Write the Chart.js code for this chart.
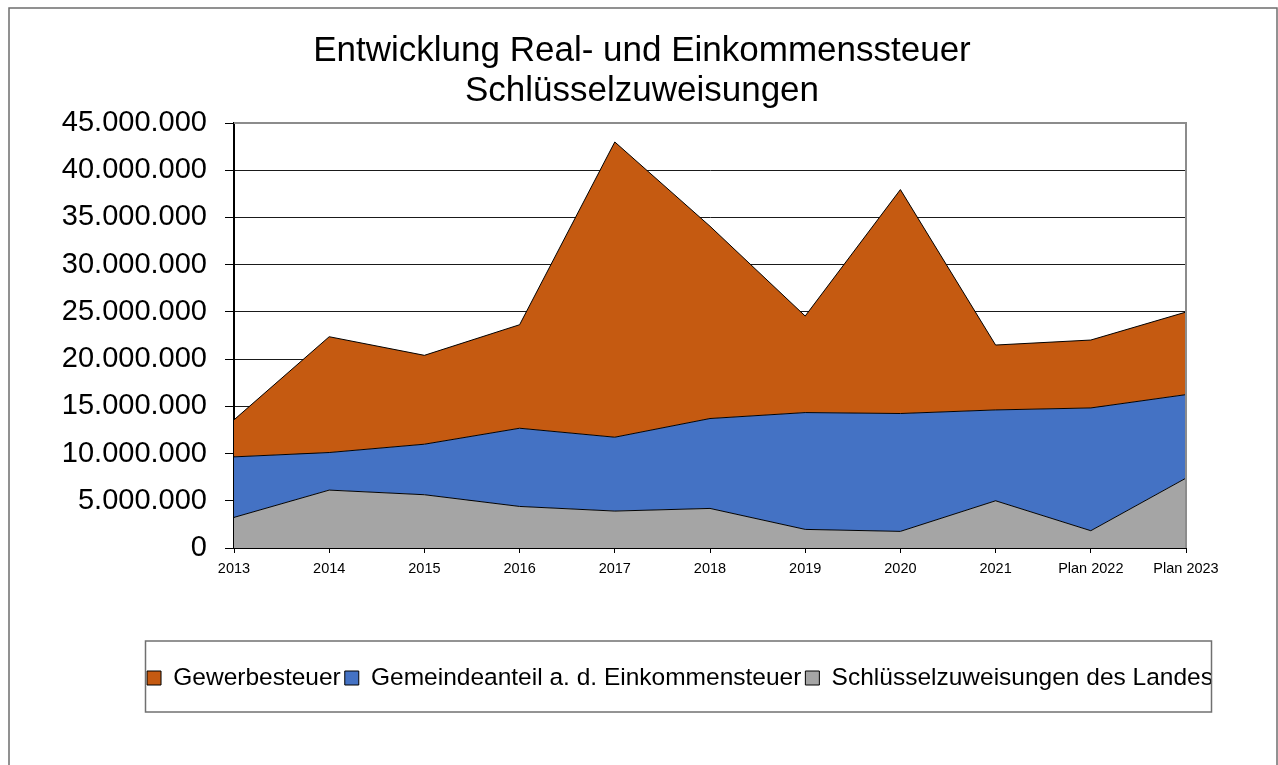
<!DOCTYPE html>
<html>
<head>
<meta charset="utf-8">
<script src="https://cdn.jsdelivr.net/npm/chart.js@4/dist/chart.umd.min.js"></script>
<style>
  html, body { margin: 0; padding: 0; background: #fff; }
  #wrap { width: 1278px; height: 765px; }
</style>
</head>
<body>
<div id="wrap"><canvas id="myChart" width="1278" height="765"></canvas></div>
<script>
  const years = ['2013', '2014', '2015', '2016', '2017', '2018', '2019', '2020', '2021', 'Plan 2022', 'Plan 2023'];

  // values in euro
  const schluesselzuweisungen = [3240000, 6130000, 5640000, 4400000, 3910000, 4190000, 1970000, 1760000, 5000000, 1830000, 7400000];
  const einkommensteuer = [6410000, 3980000, 5350000, 8280000, 7820000, 9520000, 12370000, 12480000, 9620000, 13000000, 8840000];
  const gewerbesteuer = [3920000, 12260000, 9410000, 10960000, 31260000, 20360000, 10220000, 23710000, 6870000, 7190000, 8740000];

  const titleLines = ['Entwicklung Real- und Einkommenssteuer', 'Schlüsselzuweisungen'];
  const yMax = 45000000;
  const yStep = 5000000;

  const fontFam = "'Liberation Sans', Arial, sans-serif";

  // 45000000 -> 45.000.000
  function formatDE(v) {
    return String(Math.round(v)).replace(/\B(?=(\d{3})+(?!\d))/g, '.');
  }

  // frames: page border, gray plot border, legend box
  const framePlugin = {
    id: 'frames',
    beforeDraw(chart) {
      const ctx = chart.ctx;
      ctx.save();
      ctx.fillStyle = '#fff';
      ctx.fillRect(0, 0, chart.width, chart.height);
      ctx.restore();
    },
    afterLayout(chart) {
      // legend sits a bit to the right, title almost centered
      chart.legend.left += 41;
      chart.legend.right += 41;
      chart.titleBlock.left += 3;
      chart.titleBlock.right += 3;
    },
    afterDatasetsDraw(chart) {
      const ctx = chart.ctx;
      const a = chart.chartArea;
      ctx.save();
      ctx.strokeStyle = '#8c8c8c';
      ctx.lineWidth = 2;
      ctx.beginPath();
      ctx.moveTo(a.left, a.top);
      ctx.lineTo(a.right, a.top);
      ctx.lineTo(a.right, a.bottom);
      ctx.stroke();
      ctx.restore();
    },
    afterDraw(chart) {
      const ctx = chart.ctx;
      ctx.save();
      ctx.strokeStyle = '#6e6e6e';
      ctx.lineWidth = 1.5;
      ctx.strokeRect(9, 8, 1268, 780);
      ctx.strokeStyle = '#707070';
      ctx.lineWidth = 1.5;
      ctx.strokeRect(145.5, 641, 1066, 71);
      ctx.restore();
    }
  };

  const data = {
    labels: years,
    datasets: [{
      label: 'Schlüsselzuweisungen des Landes',
      data: schluesselzuweisungen,
      backgroundColor: '#A5A5A5',
      borderColor: '#000',
      borderWidth: 1,
      fill: 'origin'
    }, {
      label: 'Gemeindeanteil a. d. Einkommensteuer',
      data: einkommensteuer,
      backgroundColor: '#4472C4',
      borderColor: '#000',
      borderWidth: 1,
      fill: '-1'
    }, {
      label: 'Gewerbesteuer',
      data: gewerbesteuer,
      backgroundColor: '#C55A11',
      borderColor: '#000',
      borderWidth: 1,
      fill: '-1'
    }]
  };

  const config = {
    type: 'line',
    data: data,
    options: {
      responsive: false,
      animation: false,
      devicePixelRatio: 1,
      layout: { padding: { top: 0, left: 0, right: 0, bottom: 64.75 } },
      elements: {
        line: { tension: 0 },
        point: { radius: 0, hoverRadius: 0 }
      },
      plugins: {
        tooltip: { enabled: false },
        title: {
          display: true,
          text: titleLines,
          color: '#000',
          font: { family: fontFam, size: 35, weight: 'normal', lineHeight: '40px' },
          padding: { top: 31, bottom: 12 }
        },
        legend: {
          display: true,
          position: 'bottom',
          reverse: true,
          labels: {
            color: '#000',
            font: { family: fontFam, size: 24.5 },
            boxWidth: 14,
            boxHeight: 14,
            padding: 4
          }
        }
      },
      scales: {
        x: {
          offset: false,
          grid: { drawOnChartArea: false, drawTicks: true, tickLength: 5, color: '#000' },
          border: { color: '#000', width: 2 },
          ticks: {
            color: '#000',
            font: { family: fontFam, size: 14.5 },
            padding: 7,
            autoSkip: false,
            maxRotation: 0
          },
          afterFit(scale) { scale.height = 113.75; }
        },
        y: {
          stacked: true,
          min: 0,
          max: yMax,
          grid: {
            color: (c) => (c.tick && c.tick.value === yMax ? 'rgba(0,0,0,0)' : '#1a1a1a'),
            tickColor: '#000',
            tickLength: 9,
            lineWidth: 1
          },
          border: { color: '#000', width: 2 },
          ticks: {
            stepSize: yStep,
            color: '#000',
            font: { family: fontFam, size: 29 },
            padding: 18,
            callback: (v) => formatDE(v)
          },
          afterFit(scale) { scale.width = 234; }
        },
        y2: {
          position: 'right',
          display: true,
          grid: { display: false },
          border: { display: false },
          ticks: { display: false },
          afterFit(scale) { scale.width = 92; }
        }
      }
    },
    plugins: [framePlugin]
  };

  const myChart = new Chart(document.getElementById('myChart'), config);
</script>
</body>
</html>
